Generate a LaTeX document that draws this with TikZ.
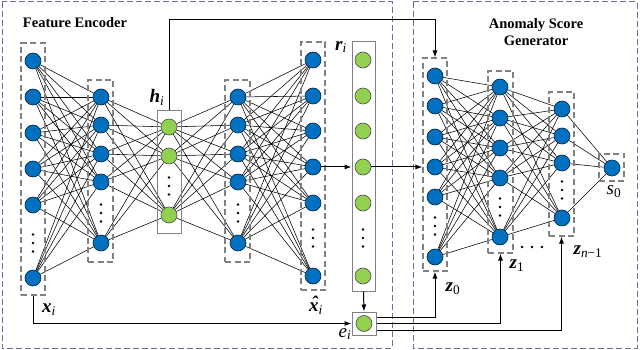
\documentclass[tikz,border=0pt]{standalone}
\usepackage{fontspec}
\setmainfont{Liberation Serif}
\usetikzlibrary{arrows.meta,fit,backgrounds}
\definecolor{nblue}{HTML}{0070C0}
\definecolor{ngreen}{HTML}{92D050}
\definecolor{fpurple}{HTML}{8064A2}
\begin{document}
\begin{tikzpicture}[x=1pt,y=-1pt,
 bn/.style={circle,minimum size=16pt,inner sep=0pt,fill=nblue,draw=black!70!nblue,line width=0.6pt},
 gn/.style={circle,minimum size=16pt,inner sep=0pt,fill=ngreen,draw=black!70,line width=0.6pt},
 cn/.style={line width=0.55pt,black},
 dbox/.style={draw=gray,dash pattern=on 6pt off 3.5pt,line width=1.1pt,inner sep=0pt},
 sbox/.style={draw=gray,line width=1pt,inner sep=0pt},
 frame/.style={draw=fpurple,line width=1pt,dash pattern=on 6pt off 3pt},
 arr/.style={line width=1pt,-{Latex[length=7pt,width=5pt]}},
 title/.style={font=\fontsize{14.5}{17}\selectfont\bfseries,align=center},
 lab/.style={font=\fontsize{19}{20}\selectfont,inner sep=0pt}
]
\useasboundingbox (0,0) rectangle (640,350);
% frames
\draw[frame] (2,2) rectangle (392,348);
\draw[frame] (413,2) rectangle (637,348);
% titles
\node[title] (t1) at (75,23) {Feature Encoder};
\node[title] (t2) at (536,32) {Anomaly Score\\Generator};
% layer nodes
\foreach \n/\y in {1/61,2/97,3/133,4/169,5/205,6/278} \node[bn] (a\n) at (33,\y) {};
\foreach \n/\y in {1/97,2/125,3/154,4/182,5/243} \node[bn] (b\n) at (101,\y) {};
\foreach \n/\y in {1/127,2/156,3/215} \node[gn] (h\n) at (169,\y) {};
\foreach \n/\y in {1/97,2/125,3/154,4/182,5/243} \node[bn] (c\n) at (238,\y) {};
\foreach \n/\y in {1/60,2/96,3/131,4/167,5/203,6/276} \node[bn] (d\n) at (313,\y) {};
\foreach \n/\y in {1/60,2/96,3/131,4/167,5/203,6/276} \node[gn] (r\n) at (363,\y) {};
\node[gn] (e1) at (364,323.5) {};
\foreach \n/\y in {1/76,2/106,3/137,4/167,5/197,6/257} \node[bn] (z\n) at (435,\y) {};
\foreach \n/\y in {1/87,2/118,3/148,4/178,5/237} \node[bn] (y\n) at (500,\y) {};
\foreach \n/\y in {1/109,2/136,3/163,4/218} \node[bn] (w\n) at (562,\y) {};
\node[bn] (s1) at (612,168) {};
% boxes
\node[dbox,fit={(21,43)(45,295)}] (A) {};
\node[dbox,fit={(88,80)(113,262)}] (B) {};
\node[sbox,fit={(157,111)(181,233)}] (H) {};
\node[dbox,fit={(225,80)(250,262)}] (C) {};
\node[dbox,fit={(301,42)(325,290)}] (D) {};
\node[sbox,fit={(352,42)(375,291)}] (R) {};
\node[sbox,fit={(352,312)(376,335)}] (E) {};
\node[dbox,fit={(423,58)(447,271)}] (Z0) {};
\node[dbox,fit={(488,71)(513,253)}] (Z1) {};
\node[dbox,fit={(549,92)(574,236)}] (Zn) {};
\node[dbox,fit={(599,154)(624,181)}] (S) {};
% vertical dots
\foreach \x/\y in {33/243,101/213,169/186,238/213,313/238,363/238,435/226,500/207,562/190}
  \foreach \k in {-8.5,0,8.5} \fill (\x,\y+\k) circle (1.4pt);
% horizontal dots
\foreach \x in {522,532,542} \fill (\x,247) circle (1.4pt);
% connections
\begin{scope}[on background layer]
\fill[white] (0,0) rectangle (640,350);
\foreach \i in {1,...,6} \foreach \j in {1,...,5} \draw[cn] (a\i) -- (b\j);
\foreach \i in {1,...,5} \foreach \j in {1,...,3} \draw[cn] (b\i) -- (h\j);
\foreach \i in {1,...,3} \foreach \j in {1,...,5} \draw[cn] (h\i) -- (c\j);
\foreach \i in {1,...,5} \foreach \j in {1,...,6} \draw[cn] (c\i) -- (d\j);
\foreach \i in {1,...,6} \foreach \j in {1,...,5} \draw[cn] (z\i) -- (y\j);
\foreach \i in {1,...,5} \foreach \j in {1,...,4} \draw[cn] (y\i) -- (w\j);
\foreach \i in {1,...,4} \draw[cn] (w\i) -- (s1);
\end{scope}
% arrows
\coordinate (top) at (0,20);
\draw[arr] (H.north) -- (H.north |- top) -| (Z0.north);
\draw[arr] (d4.east) -- (d4 -| R.west);
\draw[arr] (r4.east) -- (r4 -| Z0.west);
\draw[arr] (R.south) -- (E.north);
\draw[arr] (A.south) |- (E.west);
\draw[arr] ([yshift=6.5pt]E.east) -| (Z0.south);
\draw[arr] (E.east) -| (Z1.south);
\draw[arr] ([yshift=-6.5pt]E.east) -| (Zn.south);
% labels
\node[lab] (lh) at (157,97) {\textbf{\textit{h}}\textsubscript{\textit{i}}};
\node[lab] (lr) at (341,47) {\textbf{\textit{r}}\textsubscript{\textit{i}}};
\node[lab] (lx) at (49,310) {\textbf{\textit{x}}\textsubscript{\textit{i}}};
\node[lab] (lxh) at (316,305) {{\bfseries\itshape\makebox[0pt][l]{\hspace{0.12em}\raisebox{0.1em}{\char"02C6}}x}\textsubscript{\textit{i}}};
\node[lab] (le) at (345,334) {\textit{e}\textsubscript{\textit{i}}};
\node[lab] (lz0) at (453,289) {\textbf{\textit{z}}\textsubscript{0}};
\node[lab] (lz1) at (517,266) {\textbf{\textit{z}}\textsubscript{1}};
\node[lab] (lzn) at (588,252) {\textbf{\textit{z}}\textsubscript{\textit{n}−1}};
\node[lab] (ls) at (614,192) {\textit{s}\textsubscript{0}};
\end{tikzpicture}
\end{document}
